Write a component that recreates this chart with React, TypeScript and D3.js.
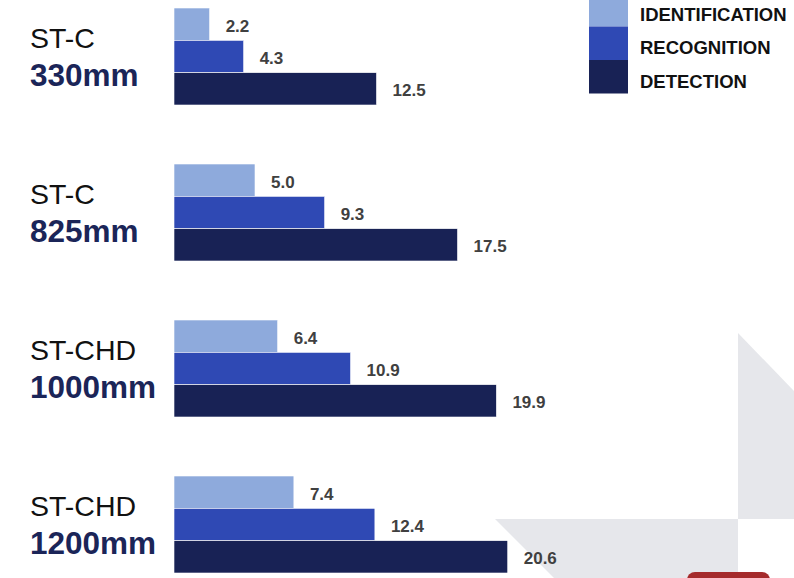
import React from "react";
import * as d3 from "d3";

// Range figures per camera model, in km
const models = ["ST-C", "ST-C", "ST-CHD", "ST-CHD"];
const lenses = ["330mm", "825mm", "1000mm", "1200mm"];
const seriesNames = ["IDENTIFICATION", "RECOGNITION", "DETECTION"];
const identification = [2.2, 5.0, 6.4, 7.4];
const recognition = [4.3, 9.3, 10.9, 12.4];
const detection = [12.5, 17.5, 19.9, 20.6];

const seriesColors = ["#8eaadc", "#2f49b4", "#182255"];

const W = 794;
const H = 578;

export default function App() {
  const seriesValues = [identification, recognition, detection];
  const groupKeys = lenses.map((l, i) => `${models[i]} ${l}`);

  const x = d3.scaleLinear().domain([0, 25]).range([174, 174 + 25 * 16.2]);
  const y0 = d3
    .scaleBand<string>()
    .domain(groupKeys)
    .range([8, 8 + 3 * 156 + 97])
    .paddingInner(59 / 156)
    .paddingOuter(0);
  const y1 = d3
    .scaleBand<string>()
    .domain(seriesNames)
    .range([0, y0.bandwidth()])
    .padding(0);

  const fmt = d3.format(".1f");

  return (
    <svg
      width={W}
      height={H}
      viewBox={`0 0 ${W} ${H}`}
      style={{ position: "absolute", left: 0, top: 0, background: "#ffffff" }}
      fontFamily="'Liberation Sans', Arial, sans-serif"
    >
      {/* decorative background panels */}
      <polygon points="738,333 794,391 794,519 738,519" fill="#e6e7eb" />
      <polygon points="495,519 738,519 738,578 554,578" fill="#e6e7eb" />
      <rect x={687} y={572} width={83} height={20} rx={8} fill="#a52b2c" />

      {groupKeys.map((key, gi) => {
        const gy = y0(key)!;
        return (
          <g key={key}>
            <text x={30} y={gy + 40} fontSize={28.5} fill="#111111">
              {models[gi]}
            </text>
            <text
              x={30}
              y={gy + 78}
              fontSize={31.5}
              fontWeight="bold"
              fill="#1b2558"
            >
              {lenses[gi]}
            </text>
            {seriesNames.map((s, si) => {
              const v = seriesValues[si][gi];
              const by = gy + y1(s)!;
              return (
                <g key={s}>
                  <rect
                    x={x(0)}
                    y={by}
                    width={x(v) - x(0)}
                    height={y1.bandwidth()}
                    fill={seriesColors[si]}
                    stroke="#ffffff"
                    strokeWidth={0.6}
                  />
                  <text
                    x={x(v) + 16}
                    y={by + y1.bandwidth() / 2 + 2}
                    dominantBaseline="central"
                    fontSize={17}
                    fontWeight="bold"
                    fill="#404040"
                  >
                    {fmt(v)}
                  </text>
                </g>
              );
            })}
          </g>
        );
      })}

      {/* legend */}
      {seriesNames.map((s, i) => (
        <g key={s}>
          <rect
            x={589}
            y={-7 + i * 33.5}
            width={39}
            height={33.5}
            fill={seriesColors[i]}
          />
          <text
            x={640}
            y={-7 + i * 33.5 + 21}
            dominantBaseline="central"
            fontSize={18.5}
            fontWeight="bold"
            fill="#111111"
          >
            {s}
          </text>
        </g>
      ))}
    </svg>
  );
}
